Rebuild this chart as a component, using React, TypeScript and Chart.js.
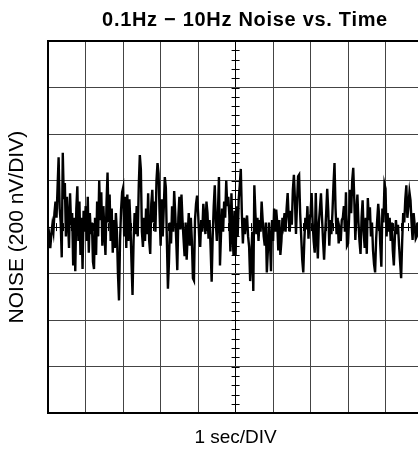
import React, { useEffect, useRef } from "react";
import { Chart, registerables } from "chart.js";

Chart.register(...registerables);

const TITLE = "0.1Hz \u2212 10Hz Noise vs. Time";
const X_LABEL = "1 sec/DIV";
const Y_LABEL = "NOISE (200 nV/DIV)";

const X_MIN = 0;
const X_MAX = 10;
const X_STEP = 1;
const Y_MIN = -800;
const Y_MAX = 800;
const Y_STEP = 200;
const MINOR_PER_DIV = 5;
const SAMPLES_PER_SEC = 36;

// noise in nV, 36 samples per second
const sec0 = [-70, -40, -90, -30, 10, -20, 60, 110, 40, 170, 300, 80, 20, -130, 320, 120, 190, -40, 130, 30, -90, 145, 10, 60, -165, 40, -190, 80, 175, -60, 110, -120, 40, -180, 70, -20];
const sec1 = [90, -60, 130, -110, 60, -30, 20, -150, -180, 40, -120, 110, -40, 200, 30, 150, -80, 90, -20, -120, 100, 235, 20, 140, -60, 80, -110, 30, -90, 60, -20, -200, -315, -60, 75, 150];
const sec2 = [170, -40, 130, -90, 140, -60, 120, 10, -150, -292, -60, 60, -30, 90, -40, 180, 310, 250, -20, -85, 40, -60, 80, -30, 145, -60, -115, 100, 160, 20, 110, -20, 200, 275, 230, 60];
const sec3 = [-80, 120, -40, 80, 215, 170, -60, -265, -150, 20, -70, 90, -20, 155, 60, -60, -185, 40, 130, -10, 140, 30, -50, -125, 20, -140, -30, 60, -80, 40, -60, -220, -230, 30, 100, 135];
const sec4 = [60, -40, -85, 30, -20, 100, 40, -30, 110, 60, -50, 30, -90, -235, -40, 90, 180, 20, -60, 60, 215, -165, -30, 80, -20, 110, 40, 200, 90, 130, 50, -105, 145, -30, -120, 70];
const sec5 = [-120, 90, -40, 120, 180, 250, 60, -70, 40, -30, 20, 50, -40, -85, -232, -140, -20, -275, 180, 60, -30, 40, -60, 30, -20, 110, 30, -40, -80, 20, -195, -100, 20, -60, -190, 30];
const sec6 = [-60, 80, -20, 75, 20, -100, 30, -120, -60, 40, 10, 60, -20, 80, 146, 40, -20, 70, 10, 160, 225, 120, -30, 100, 218, 225, 60, -40, -140, -195, -60, 40, -10, 90, -50, 30];
const sec7 = [60, 146, 20, -60, -110, 146, -40, -135, 20, 80, 145, 40, -60, -140, -30, 60, 165, 70, -80, 30, -30, 60, 180, 275, 80, -30, 40, -70, -20, -60, 30, 40, 90, -20, 150, -80];
const sec8 = [-70, 40, 160, 60, 200, 255, 120, -55, 60, 140, 20, -60, -115, 40, 115, -20, -90, 40, -115, 125, 30, 85, -40, 20, -100, -160, -195, -50, 30, 100, 40, -80, -170, 80, 20, 185];
const sec9 = [165, -40, 60, -20, 40, -60, 20, -100, -165, -40, 30, -30, 10, -80, -150, -220, -60, 60, 20, 120, 180, 40, 90, 150, 115, 20, -55, 60, 10, -50, -40, 20, -30, 40, -10, 30];

const noise = [...sec0, ...sec1, ...sec2, ...sec3, ...sec4, ...sec5, ...sec6, ...sec7, ...sec8, ...sec9];

const FONT = "'Liberation Sans', Arial, Helvetica, sans-serif";

const overlayPlugin = {
  id: "overlay",
  beforeDatasetsDraw(chart: any) {
    const { ctx, scales } = chart;
    const x = scales.x;
    const y = scales.y;
    const cx = x.getPixelForValue((X_MIN + X_MAX) / 2);
    const cy = y.getPixelForValue((Y_MIN + Y_MAX) / 2);
    ctx.save();
    ctx.strokeStyle = "#000";
    ctx.lineWidth = 1;
    ctx.beginPath();
    const ny = Math.round(((Y_MAX - Y_MIN) / Y_STEP) * MINOR_PER_DIV);
    for (let i = 0; i <= ny; i++) {
      const v = Y_MIN + (i * Y_STEP) / MINOR_PER_DIV;
      const py = Math.round(y.getPixelForValue(v)) + 0.5;
      ctx.moveTo(cx - 4, py);
      ctx.lineTo(cx + 4, py);
    }
    const nx = Math.round(((X_MAX - X_MIN) / X_STEP) * MINOR_PER_DIV);
    for (let i = 0; i <= nx; i++) {
      const v = X_MIN + (i * X_STEP) / MINOR_PER_DIV;
      const px = Math.round(x.getPixelForValue(v)) + 0.5;
      ctx.moveTo(px, cy - 4);
      ctx.lineTo(px, cy + 4);
    }
    ctx.stroke();
    ctx.restore();
  },
  afterDraw(chart: any) {
    const { ctx } = chart;
    ctx.save();
    ctx.fillStyle = "#000";
    ctx.font = `bold 20px ${FONT}`;
    ctx.textAlign = "center";
    ctx.textBaseline = "middle";
    try {
      (ctx as any).letterSpacing = "0.7px";
    } catch (e) {}
    ctx.fillText(TITLE, chart.width / 2, 20);
    ctx.restore();
  },
};

export default function App() {
  const ref = useRef<HTMLCanvasElement | null>(null);

  useEffect(() => {
    document.documentElement.style.overflow = "hidden";
    document.body.style.overflow = "hidden";
    const canvas = ref.current;
    if (!canvas) return;
    const points = noise.map((v, i) => ({ x: i / SAMPLES_PER_SEC, y: v }));
    const chart = new Chart(canvas, {
      type: "line",
      data: {
        datasets: [
          {
            data: points,
            borderColor: "#000",
            borderWidth: 2.4,
            pointRadius: 0,
            tension: 0,
            fill: false,
          },
        ],
      },
      options: {
        animation: false,
        responsive: true,
        maintainAspectRatio: false,
        events: [],
        layout: { padding: { top: 41, right: 67, bottom: 0, left: 0 } },
        plugins: {
          legend: { display: false },
          tooltip: { enabled: false },
          title: { display: false },
        },
        scales: {
          x: {
            type: "linear",
            min: X_MIN,
            max: X_MAX,
            ticks: { display: false, stepSize: X_STEP },
            grid: {
              drawTicks: false,
              color: (c: any) => (c.tick && c.tick.value === (X_MIN + X_MAX) / 2 ? "#000" : "#444"),
              lineWidth: (c: any) => (c.tick && c.tick.value === X_MAX ? 2 : 1),
            },
            border: { display: true, color: "#000", width: 2 },
            title: {
              display: true,
              text: X_LABEL,
              color: "#000",
              font: { family: FONT, size: 19, lineHeight: 1.2 },
              padding: { top: 13, bottom: 0 },
            },
          },
          y: {
            type: "linear",
            min: Y_MIN,
            max: Y_MAX,
            ticks: { display: false, stepSize: Y_STEP },
            grid: {
              drawTicks: false,
              color: (c: any) =>
                c.tick && (c.tick.value === 0 || c.tick.value === Y_MAX) ? "#000" : "#444",
              lineWidth: (c: any) => (c.tick && c.tick.value === Y_MAX ? 2 : 1),
            },
            border: { display: true, color: "#000", width: 2 },
            title: {
              display: true,
              text: Y_LABEL,
              color: "#000",
              font: { family: FONT, size: 21, lineHeight: 1.2 },
              padding: { top: 5, bottom: 18 },
            },
          },
        },
      },
      plugins: [overlayPlugin],
    });
    return () => chart.destroy();
  }, []);

  return (
    <div style={{ position: "fixed", left: 0, top: 0, width: 490, height: 449, background: "#fff" }}>
      <canvas ref={ref} />
    </div>
  );
}
